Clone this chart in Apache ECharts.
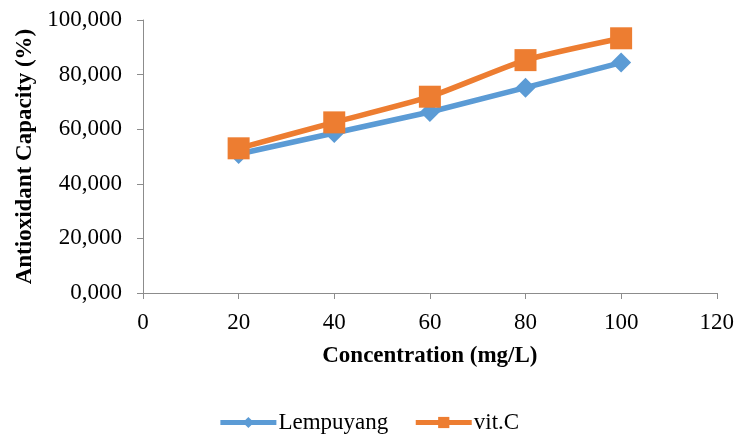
<!DOCTYPE html>
<html><head><meta charset="utf-8">
<script src="https://cdn.jsdelivr.net/npm/echarts@6/dist/echarts.min.js"></script>
<style>html,body{margin:0;padding:0;background:#fff}#c{width:737px;height:437px}</style>
</head><body><div id="c"></div>
<script>
var concentrations = [20, 40, 60, 80, 100];
var lempuyang = [50.9, 58.6, 66.3, 75.2, 84.4];
var vitC = [53.0, 62.5, 71.9, 85.3, 93.3];
var xTicks = [0, 20, 40, 60, 80, 100, 120];
var yTickLabels = ['0,000', '20,000', '40,000', '60,000', '80,000', '100,000'];

var FONT = 'Liberation Serif';
var chart = echarts.init(document.getElementById('c'));
function pairs(xs, ys){ return xs.map(function(x,i){ return [x, ys[i]]; }); }
chart.setOption({
  animation: false,
  textStyle: {fontFamily: FONT},
  grid: {left: 143, right: 20, top: 20, bottom: 144},
  xAxis: {
    type: 'value', min: 0, max: 120, interval: 20,
    name: 'Concentration (mg/L)', nameLocation: 'middle', nameGap: 52,
    nameTextStyle: {fontFamily: FONT, fontWeight: 'bold', fontSize: 23, color: '#000'},
    axisLine: {show: true, lineStyle: {color: '#8c8c8c', width: 1}},
    axisTick: {show: true, length: 6, lineStyle: {color: '#8c8c8c'}},
    axisLabel: {fontFamily: FONT, fontSize: 23, color: '#000', margin: 18,
      formatter: function(v){ return xTicks.indexOf(v) >= 0 ? String(v) : ''; }},
    splitLine: {show: false}
  },
  yAxis: {
    type: 'value', min: 0, max: 100, interval: 20,
    name: 'Antioxidant Capacity (%)', nameLocation: 'middle', nameGap: 106, nameRotate: 90,
    nameTextStyle: {fontFamily: FONT, fontWeight: 'bold', fontSize: 23, color: '#000'},
    axisLine: {show: true, lineStyle: {color: '#8c8c8c', width: 1}},
    axisTick: {show: true, length: 6, lineStyle: {color: '#8c8c8c'}},
    axisLabel: {fontFamily: FONT, fontSize: 23, color: '#000', margin: 21,
      formatter: function(v){ return yTickLabels[Math.round(v/20)]; }},
    splitLine: {show: false}
  },
  legend: {
    top: 411, left: 'center', padding: 0, itemGap: 25, itemWidth: 56, itemHeight: 14,
    lineStyle: {width: 5},
    textStyle: {fontFamily: FONT, fontSize: 23, color: '#000', padding: [0,0,0,-3]},
    data: ['Lempuyang', 'vit.C']
  },
  series: [
    {name: 'Lempuyang', type: 'line', data: pairs(concentrations, lempuyang),
     symbol: 'diamond', symbolSize: [20, 20],
     lineStyle: {color: '#5B9BD5', width: 5.5}, itemStyle: {color: '#5B9BD5'}, z: 2},
    {name: 'vit.C', type: 'line', data: pairs(concentrations, vitC), smooth: 0.2,
     symbol: 'rect', symbolSize: [22, 22],
     lineStyle: {color: '#ED7D31', width: 5.5}, itemStyle: {color: '#ED7D31'}, z: 3}
  ]
});
</script></body></html>
